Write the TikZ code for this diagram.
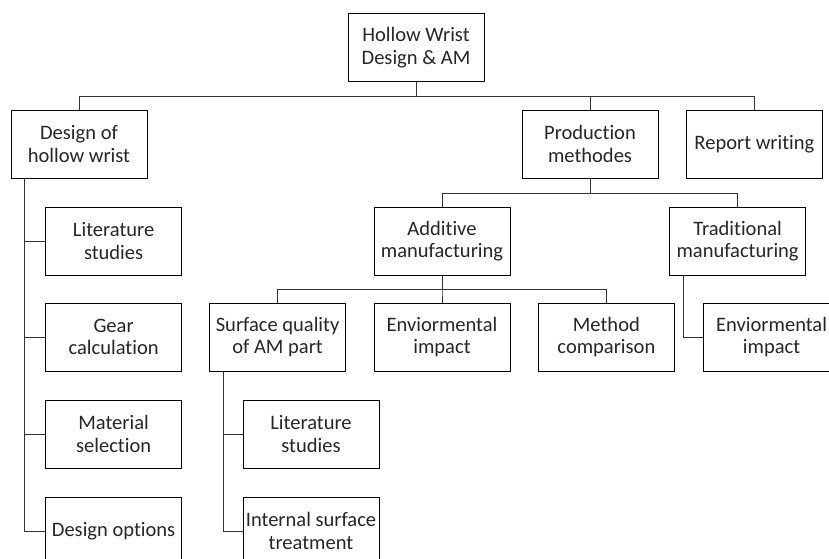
\documentclass[tikz,border=0pt]{standalone}
\usepackage{fontspec}
\setmainfont{Carlito}[Ligatures=NoCommon]
\usepackage{tikz}
\usetikzlibrary{positioning,calc}

\begin{document}
\begin{tikzpicture}[
    box/.style={draw=black, line width=0.7pt, minimum width=3.4cm, minimum height=1.7cm,
        align=center, inner sep=1pt, font=\fontsize{14.6}{15.8}\selectfont, text=black!85},
    link/.style={draw=black!80, line width=0.7pt}
]
    % Canvas
    \useasboundingbox (0, 0) rectangle (20.725, -13.975);

    % Root
    \node[box] (root) at (10.4, -1.19) {Hollow Wrist\\Design \& AM};

    % First level
    \node[box] (design) at (1.975, -3.6) {Design of\\hollow wrist};
    \node[box] (prod) at (14.75, -3.6) {Production\\methodes};
    \node[box] (report) at (18.86, -3.6) {Report writing};

    % Design branch
    \node[box] (lit1) at (2.84, -6.025) {Literature\\studies};
    \node[box] (gear) at (2.84, -8.425) {Gear\\calculation};
    \node[box] (mat) at (2.84, -10.85) {Material\\selection};
    \node[box] (opts) at (2.84, -13.275) {Design options};

    % Production branch
    \node[box] (additive) at (11.05, -6.025) {Additive\\manufacturing};
    \node[box] (trad) at (18.44, -6.025) {Traditional\\manufacturing};

    % Additive branch
    \node[box] (surface) at (6.94, -8.425) {Surface quality\\of AM part};
    \node[box] (env1) at (11.05, -8.425) {Enviormental\\impact};
    \node[box] (method) at (15.16, -8.425) {Method\\comparison};

    % Traditional branch
    \node[box] (env2) at (19.29, -8.425) {Enviormental\\impact};

    % Surface branch
    \node[box] (lit2) at (7.775, -10.85) {Literature\\studies};
    \node[box] (internal) at (7.775, -13.275) {Internal surface\\treatment};

    % Connectors from root
    \foreach \n in {design, prod, report} {
        \draw[link] (root.south) -- ++(0, -0.36) -| (\n.north);
    }

    % Connectors from production
    \foreach \n in {additive, trad} {
        \draw[link] (prod.south) -- ++(0, -0.375) -| (\n.north);
    }

    % Connectors from additive
    \foreach \n in {surface, env1, method} {
        \draw[link] (additive.south) -- ++(0, -0.35) -| (\n.north);
    }

    % Side connectors
    \foreach \n in {lit1, gear, mat, opts} {
        \draw[link] ([xshift=0.35cm]design.south west) |- (\n.west);
    }
    \foreach \n in {lit2, internal} {
        \draw[link] ([xshift=0.35cm]surface.south west) |- (\n.west);
    }
    \draw[link] ([xshift=0.35cm]trad.south west) |- (env2.west);
\end{tikzpicture}
\end{document}
